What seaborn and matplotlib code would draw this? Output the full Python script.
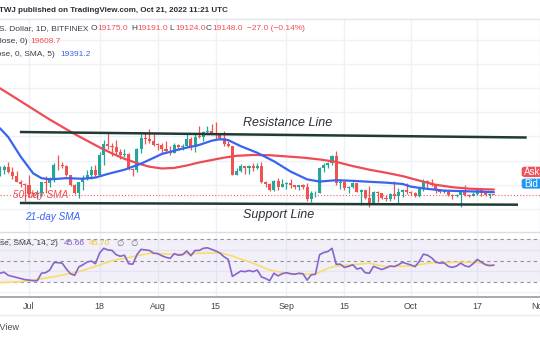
import matplotlib
matplotlib.use("Agg")
import matplotlib.pyplot as plt
from matplotlib.lines import Line2D
from matplotlib.patches import FancyBboxPatch
import numpy as np
import pandas as pd
import seaborn as sns

# ---------------------------------------------------------------- data
# BTC/USD daily candles, 24 Jun 2022 .. 21 Oct 2022 (Bitfinex)
first_day = "2022-06-24"
opens = [21100, 21230, 21500, 21030, 20730, 20270, 20100, 19950, 19280, 19250,
         19300, 20230, 20190, 20550, 21630, 21600, 21590, 20850, 19970, 19330,
         20230, 20580, 20830, 21200, 20800, 22450, 23400, 23230, 23160, 22680,
         22450, 22580, 21320, 21230, 22950, 23850, 23780, 23640, 23300, 23270,
         22990, 22820, 22620, 23310, 23170, 23180, 23810, 23150, 23950, 23940,
         24400, 24440, 24300, 24100, 23850, 23340, 23200, 20830, 21140, 21520,
         21400, 21530, 21370, 21570, 20240, 20040, 19550, 20290, 19810, 20050,
         20130, 19950, 19830, 19990, 19800, 18800, 19290, 19320, 21360, 21650,
         21830, 22400, 20170, 20230, 19700, 19800, 20110, 19420, 19540, 18880,
         18500, 19410, 19290, 18930, 18800, 19220, 19080, 19410, 19590, 19420,
         19310, 19060, 19620, 20340, 20160, 19960, 19530, 19420, 19440, 19130,
         19060, 19150, 19380, 19180, 19070, 19260, 19550, 19330, 19130, 19175]
highs = [21550, 21600, 21850, 21500, 21180, 20400, 20150, 20850, 19400, 19600,
         20250, 20700, 20650, 21800, 22500, 21900, 21600, 20850, 20050, 20250,
         20850, 21200, 21550, 21650, 22700, 23750, 24300, 23450, 23750, 23000,
         23000, 22650, 21350, 23050, 24200, 24400, 24650, 24200, 23500, 23450,
         23650, 23200, 23450, 23350, 23400, 24230, 23930, 24200, 24900, 24450,
         24900, 25050, 25200, 24250, 24450, 23600, 23200, 21350, 21700, 21550,
         21650, 21800, 21800, 21870, 20350, 20150, 20400, 20550, 20480, 20200,
         20450, 20000, 20020, 20050, 20150, 19450, 19450, 21500, 21800, 21850,
         22450, 22800, 20500, 20350, 19900, 20200, 20150, 19650, 19600, 19900,
         19480, 19450, 19320, 19150, 19300, 20350, 19750, 19650, 20150, 19450,
         19400, 19700, 20450, 20380, 20450, 20050, 19600, 19550, 19530, 19250,
         19220, 19500, 19950, 19200, 19400, 19670, 19700, 19350, 19350, 19191]
lows = [20700, 20900, 21000, 20500, 20200, 19850, 18650, 19000, 18980, 18800,
        19050, 19300, 19800, 20250, 21200, 21350, 20700, 19900, 19250, 18900,
        19600, 20400, 20500, 20750, 20750, 21600, 23000, 22350, 22550, 22150,
        22300, 21250, 20700, 21050, 22600, 23400, 23500, 23250, 22850, 22650,
        22700, 22450, 22600, 22950, 22850, 23150, 22880, 22700, 23900, 23600,
        24300, 24200, 23800, 23700, 23200, 23100, 20800, 20780, 21070, 20900,
        20900, 21150, 21300, 20150, 19820, 19520, 19520, 19570, 19780, 19650,
        19770, 19650, 19600, 19650, 18700, 18550, 19000, 19300, 21100, 21400,
        21600, 20000, 19650, 19550, 19350, 19700, 19400, 18300, 18800, 18150,
        18400, 18600, 18850, 18650, 18700, 18850, 18500, 19000, 19200, 19170,
        18950, 19000, 19500, 19750, 19900, 19350, 19300, 19330, 19050, 18860,
        18960, 18190, 19100, 18980, 19040, 19160, 19100, 19070, 18900, 19124]
closes = [21230, 21500, 21030, 20730, 20270, 20100, 19950, 19280, 19250, 19300,
          20230, 20190, 20550, 21630, 21600, 21590, 20850, 19970, 19330, 20230,
          20580, 20830, 21200, 20800, 22450, 23400, 23230, 23160, 22680, 22450,
          22580, 21320, 21230, 22950, 23850, 23780, 23640, 23300, 23270, 22990,
          22820, 22620, 23310, 23170, 23180, 23810, 23150, 23950, 23940, 24400,
          24440, 24300, 24100, 23850, 23340, 23200, 20830, 21140, 21520, 21400,
          21530, 21370, 21570, 20240, 20040, 19550, 20290, 19810, 20050, 20130,
          19950, 19830, 19990, 19800, 18800, 19290, 19320, 21360, 21650, 21830,
          22400, 20170, 20230, 19700, 19800, 20110, 19420, 19540, 18880, 18500,
          19410, 19290, 18930, 18800, 19220, 19080, 19410, 19590, 19420, 19310,
          19060, 19620, 20340, 20160, 19960, 19530, 19420, 19440, 19130, 19060,
          19150, 19380, 19180, 19070, 19260, 19550, 19330, 19130, 19175, 19148]

# RSI(14), one value per candle
rsi = [38, 39, 36, 35, 34, 33, 32, 31.5, 31, 31,
       38, 38.5, 41, 48, 48, 47.5, 42, 37.5, 36, 44,
       46, 48.5, 49.5, 47, 57, 61.5, 60, 59.5, 55.5, 54,
       55, 47, 46.5, 55.5, 60.5, 60, 59.5, 57, 56.5, 54.5,
       53, 52, 56.5, 55, 55.5, 59, 54.5, 59.5, 59.5, 61.5,
       62, 60.5, 59, 57, 53.5, 51, 35, 37.5, 40, 39.5,
       40.5, 39.5, 41, 34.5, 33, 31, 38, 35.5, 37.5, 38.5,
       37.5, 37, 38, 37.5, 31.5, 36.5, 37, 55.5, 57.5, 58.5,
       61.5, 46.5, 46.5, 43.5, 44.5, 46, 42, 43, 38.5, 38,
       44.5, 43, 41.5, 43, 44.8, 44.3, 46, 48.3, 47, 45.8,
       44.2, 49, 56, 55, 52.5, 48.5, 47.5, 47.8, 44.5, 43.5,
       44.8, 47.5, 45, 44, 47, 51, 48.5, 46, 45.1, 45.66]

# Moving averages (day offsets counted from 1 Jul 2022)
sma50_day = [-7, -4, -1, 2, 5, 8, 11, 14, 17, 20, 23, 26, 29, 32, 35, 38, 41, 44,
             47, 50, 54, 58, 62, 66, 70, 74, 78, 82, 86, 90, 94, 98, 102, 106, 109, 112]
sma50 = [27990, 27350, 26700, 26050, 25400, 24800, 24200, 23650, 23100, 22600,
         22150, 21800, 21500, 21350, 21400, 21600, 21850, 22050, 22250, 22400,
         22470, 22450, 22350, 22250, 22100, 21900, 21550, 21250, 21000, 20720,
         20350, 20000, 19800, 19680, 19640, 19608.7]
sma21_day = [-7, -5, -2, 1, 3, 5, 9, 13, 16, 19, 23, 27, 32, 37, 41, 44, 46, 48,
             51, 55, 59, 63, 67, 70, 74, 78, 82, 86, 90, 92, 95, 100, 104, 108, 112]
sma21 = [24680, 23950, 22330, 20950, 20550, 20450, 20550, 20500, 20600, 20900,
         21250, 21750, 22550, 23000, 23300, 23650, 23780, 23700, 23200, 22650,
         21950, 21100, 20450, 20270, 20380, 20330, 20250, 20180, 20070, 19850,
         19700, 19520, 19480, 19440, 19391.2]
rsi_ma_day = [-7, -2, 1, 7, 12, 17, 20, 25, 29, 35, 41, 46, 49, 54, 58, 62, 66, 69,
              72, 74, 82, 86, 92, 97, 103, 108, 110, 112]
rsi_ma = [29.1, 30, 31.6, 35.4, 39.4, 45.8, 49.8, 53.6, 56.8, 55.8, 56.8, 57.4,
          54.2, 47.4, 41, 37.9, 37, 37.3, 42.6, 44.8, 47.4, 44.2, 44.8, 47.9,
          48.3, 48.3, 46.4, 45.7]

# Hand-drawn channel (start/end day offset, price)
resist_day = [-2.2, 119.9]
resist_price = [24370, 23915]
support_day = [-2.2, 117.8]
support_price = [18495, 18355]
last_price = 19148

tick_dates = ["2022-07-01", "2022-07-18", "2022-08-01", "2022-08-15", "2022-09-01",
              "2022-09-15", "2022-10-01", "2022-10-17", "2022-11-01"]
tick_labels = ["Jul", "18", "Aug", "15", "Sep", "15", "Oct", "17", "Nov"]
price_grid = [18000, 20000, 22000, 24000, 26000, 28000, 30000, 32000]
rsi_grid = [20, 40, 60]

# ---------------------------------------------------------------- style
sns.set_theme(style="white")
plt.rcParams["font.family"] = ["Liberation Sans", "DejaVu Sans"]

UP, DOWN = "#26a69a", "#ef5350"
RED_TXT, BLUE, GRID = "#f04f57", "#3d63f2", "#eef1f6"

W, H = 540, 340
ref = pd.Timestamp("2022-07-01")
day = (pd.date_range(first_day, periods=len(closes), freq="D") - ref).days.to_numpy()
ticks = [(pd.Timestamp(t) - ref).days for t in tick_dates]
ppd = 4.151  # pixels per day
xlim = (-29 / ppd, (W - 29) / ppd)


def fx(px):
    return px / W


def fy(py):
    return 1 - py / H


fig = plt.figure(figsize=(W / 100, H / 100), dpi=100)
fig.patch.set_facecolor("white")

ax = fig.add_axes([0, fy(231.5), 1, (231.5 - 19) / H])
axr = fig.add_axes([0, fy(297), 1, (297 - 232) / H])
for a in (ax, axr):
    a.set_facecolor("white")
    for s in a.spines.values():
        s.set_visible(False)
    a.set_xlim(*xlim)
    a.set_xticks(ticks)
    a.grid(True, color=GRID, lw=1.0)
    a.tick_params(length=0)
    a.set_yticklabels([])

ax.set_ylim(16135, 33725)
ax.set_yticks(price_grid)
ax.set_xticklabels([])

# candles
o, h, l, c = map(np.asarray, (opens, highs, lows, closes))
col = np.where(c >= o, UP, DOWN)
ax.vlines(day, l, h, colors=col, lw=0.9, zorder=3)
body = np.maximum(np.abs(c - o), 70)
ax.bar(day, body, bottom=np.minimum(o, c), width=0.74, color=col, lw=0, zorder=4)

# moving averages
sns.lineplot(x=sma50_day, y=sma50, ax=ax, color="#f04a55", lw=1.6, zorder=5)
sns.lineplot(x=sma21_day, y=sma21, ax=ax, color="#3a64f0", lw=1.6, zorder=5)
ax.axhline(last_price, color="#f0626a", lw=0.8, ls=(0, (1, 1.8)), zorder=2)

# channel
ax.plot(resist_day, resist_price, color="#1f3b34", lw=1.8, zorder=6, solid_capstyle="butt")
ax.plot(support_day, support_price, color="#1f3b34", lw=1.8, zorder=6, solid_capstyle="butt")
ax.set_xlabel("")
ax.set_ylabel("")

# RSI pane
axr.set_ylim(15.57, 76.9)
axr.set_yticks(rsi_grid)
axr.axhspan(30, 70, color="#7e57c2", alpha=0.09, lw=0, zorder=1)
for lvl in (70, 50, 30):
    axr.axhline(lvl, color="#8f929b", lw=0.8, ls=(0, (3, 3)), zorder=2)
sns.lineplot(x=rsi_ma_day, y=rsi_ma, ax=axr, color="#f7de6a", lw=1.2, zorder=3)
sns.lineplot(x=day, y=rsi, ax=axr, color="#8466cc", lw=1.2, zorder=4)
axr.set_xticklabels(tick_labels, fontsize=6.4, color="#43464f")
axr.tick_params(axis="x", pad=3.5)
axr.set_xlabel("")
axr.set_ylabel("")

# frame lines
for py, colr, lw in ((19, "#e3e6ec", 1.0), (231.8, "#d9dce2", 1.0),
                     (297.3, "#a6a9b1", 1.4), (315, "#e8eaee", 1.0)):
    fig.add_artist(Line2D([0, 1], [fy(py), fy(py)], color=colr, lw=lw))

# header and legends
fig.text(fx(-1), fy(10), "TWJ published on TradingView.com, Oct 21, 2022 11:21 UTC",
         fontsize=5.8, color="#2b2e38", va="center", ha="left", weight="bold")


def seg(px, py, s, color="#3a3d47", ha="left", **kw):
    fig.text(fx(px), fy(py), s, fontsize=6, color=color, va="center", ha=ha, **kw)


seg(88, 28.3, "Bitcoin / U.S. Dollar, 1D, BITFINEX", ha="right")
for vx, lab, val in ((97.5, "O", "19175.0"), (137.7, "H", "19191.0"),
                     (175.3, "L", "19124.0"), (212, "C", "19148.0")):
    seg(vx - 0.8, 28.3, lab, ha="right")
    seg(vx, 28.3, val, color=RED_TXT)
seg(247, 28.3, "\u221227.0 (\u22120.14%)", color=RED_TXT)
seg(28, 41.7, "MA (50, close, 0)", ha="right")
seg(30, 41.7, "19608.7", color=RED_TXT)
seg(55, 55, "MA (21, close, 0, SMA, 5)", ha="right")
seg(60, 55, "19391.2", color=BLUE)
seg(58, 243.3, "RSI (14, close, SMA, 14, 2)", ha="right")
seg(64, 243.3, "45.66", color="#7e57c2")
seg(89, 243.3, "45.70", color="#e8c83a")
seg(116, 243.3, "\u2205", color="#6b6e78", family=["DejaVu Sans"])
seg(130, 243.3, "\u2205", color="#6b6e78", family=["DejaVu Sans"])

# chart annotations
fig.text(fx(243), fy(123), "Resistance Line", fontsize=9, style="italic",
         color="#2c2f36", va="center", ha="left")
fig.text(fx(243), fy(215), "Support Line", fontsize=9, style="italic",
         color="#2c2f36", va="center", ha="left")
fig.text(fx(13), fy(195), "50-day SMA", fontsize=7.2, style="italic",
         color="#f04a55", va="center", ha="left", zorder=10)
fig.text(fx(25), fy(216.5), "21-day SMA", fontsize=7.2, style="italic",
         color="#3a64f0", va="center", ha="left")

# Ask / Bid flags on the price scale
for (y0, y1), colr, lab in (((166.7, 177), "#f0525c", "Ask"), ((178.6, 188.6), "#2196f3", "Bid")):
    fig.add_artist(FancyBboxPatch((fx(521.7), fy(y1)), fx(30), (y1 - y0) / H,
                                  boxstyle="round,pad=0,rounding_size=0.006",
                                  fc=colr, ec="none", transform=fig.transFigure))
    fig.text(fx(524), fy((y0 + y1) / 2), lab, fontsize=7, color="white",
             va="center", ha="left")

fig.text(fx(20), fy(328), "TradingView", fontsize=6.5, color="#4a4d56",
         va="center", ha="right")

fig.savefig("out.png", dpi=100, facecolor="white")
